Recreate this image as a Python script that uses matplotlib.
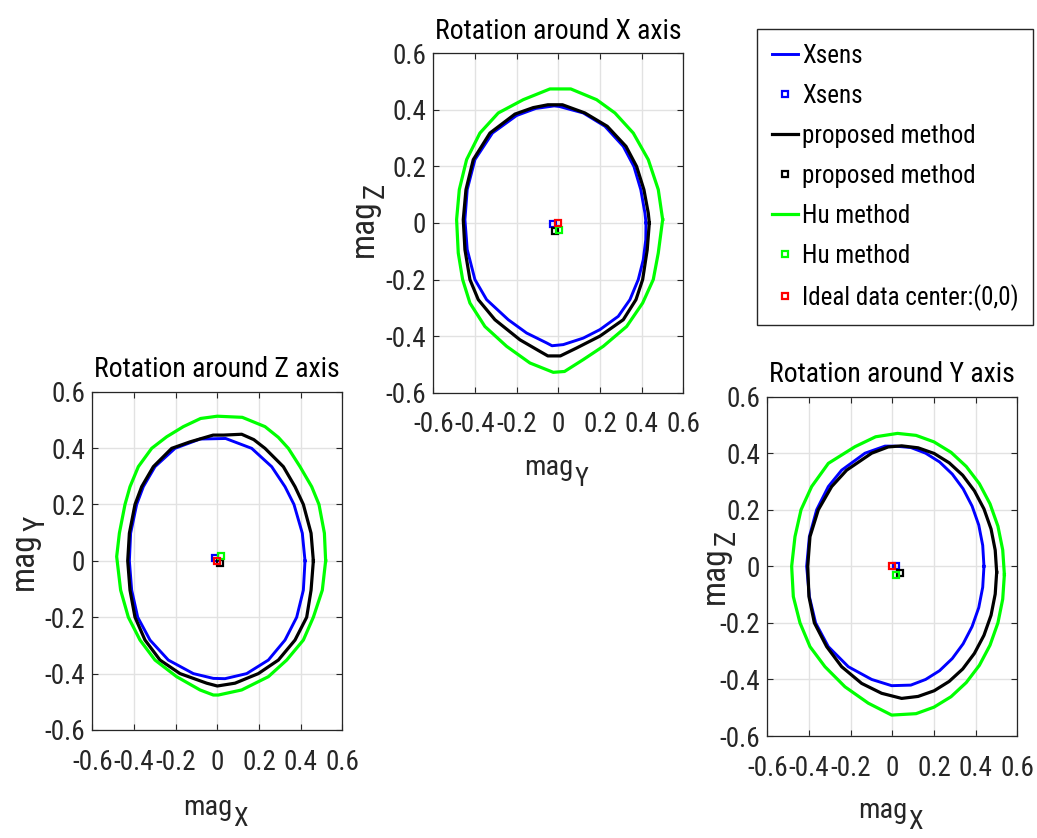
import matplotlib
matplotlib.use('Agg')
import matplotlib.pyplot as plt
from matplotlib import transforms

plt.rcParams['font.family'] = ['Roboto Condensed', 'DejaVu Sans']
plt.rcParams['axes.unicode_minus'] = False

TXT = '#262626'

# Rotation around Z axis: mag_X (x) vs mag_Y (y)
z_xsens_x = [.421, .408, .368, .325, .261, .165, .04, -.083, -.203, -.299, -.355, -.387, -.416,
             -.422, -.411, -.382, -.323, -.235, -.115, -.019, .037, .141, .245, .325, .381, .413]
z_xsens_y = [0, .098, .200, .263, .334, .399, .434, .432, .399, .334, .263, .200, .098,
             0, -.104, -.200, -.281, -.352, -.400, -.417, -.418, -.400, -.352, -.281, -.200, -.104]
z_prop_x = [.461, .450, .413, .373, .317, .229, .175, .117, .03, -.02, -.131, -.219, -.307, -.363, -.395, -.422,
            -.430, -.419, -.395, -.347, -.275, -.179, -.051, .000, .085, .197, .293, .373, .429, .450]
z_prop_y = [0, .098, .200, .263, .334, .399, .430, .449, .446, .446, .422, .399, .334, .263, .200, .098,
            0, -.104, -.200, -.281, -.352, -.400, -.434, -.444, -.434, -.400, -.352, -.281, -.200, -.104]
z_hu_x = [.520, .514, .488, .453, .397, .341, .293, .229, .12, .0, -.08, -.163, -.243, -.315, -.379, -.419, -.443,
          -.470, -.483, -.464, -.427, -.371, -.299, -.195, -.083, -.019, .005, .117, .245, .333, .413, .461, .504]
z_hu_y = [0, .098, .200, .263, .334, .399, .438, .476, .509, .513, .505, .476, .440, .399, .334, .263, .200,
          .098, .015, -.104, -.200, -.281, -.352, -.411, -.458, -.476, -.476, -.458, -.411, -.352, -.281, -.200, -.104]
z_centers = [(-0.011, 0.010), (0.013, -0.008), (0.018, 0.018)]

# Rotation around X axis: mag_Y (x) vs mag_Z (y)
x_xsens_x = [.421, .416, .396, .363, .312, .224, .120, .005, -.02, -.108, -.200, -.316, -.400, -.437, -.448,
             -.437, -.400, -.344, -.240, -.152, -.056, -.030, .024, .120, .200, .288, .344, .384, .408, .420]
x_xsens_y = [0, .035, .118, .200, .271, .342, .389, .412, .414, .405, .380, .318, .224, .118, .012,
             -.094, -.200, -.271, -.342, -.389, -.424, -.434, -.430, -.407, -.377, -.330, -.271, -.200, -.130, -.059]
x_prop_x = [.437, .432, .411, .376, .325, .235, .128, .02, -.05, -.12, -.208, -.328, -.408, -.443, -.456,
            -.448, -.424, -.384, -.304, -.184, -.088, -.05, .01, .088, .200, .312, .373, .405, .427]
x_prop_y = [0, .035, .118, .200, .271, .342, .389, .418, .418, .408, .385, .318, .224, .118, .012,
            -.094, -.200, -.271, -.342, -.413, -.454, -.470, -.470, -.442, -.400, -.342, -.271, -.200, -.094]
x_hu_x = [.501, .480, .432, .360, .272, .184, .06, -.04, -.168, -.288, -.376, -.440, -.475, -.488,
          -.480, -.459, -.424, -.352, -.248, -.136, -.024, .030, .120, .216, .328, .405, .456, .480]
x_hu_y = [.012, .118, .224, .318, .389, .436, .474, .474, .436, .389, .318, .224, .118, .012,
          -.106, -.200, -.283, -.366, -.436, -.495, -.528, -.525, -.483, -.436, -.366, -.283, -.200, -.106]
x_centers = [(-0.023, -0.004), (-0.018, -0.030), (0.003, -0.026)]

# Rotation around Y axis: mag_X (x) vs mag_Z (y)
y_xsens_x = [.440, .434, .415, .383, .340, .288, .227, .160, .089, .013, -.035, -.131, -.243, -.307, -.363, -.398,
             -.411, -.398, -.368, -.307, -.211, -.099, -.003, .089, .160, .227, .288, .340, .383, .415, .434]
y_xsens_y = [0, .074, .146, .213, .274, .326, .369, .400, .420, .425, .425, .400, .340, .282, .200, .105,
             0, -.107, -.200, -.284, -.355, -.400, -.422, -.420, -.400, -.369, -.326, -.274, -.213, -.146, -.074]
y_prop_x = [.501, .494, .474, .440, .394, .338, .273, .201, .124, .045, -.02, -.099, -.219, -.291, -.355, -.395,
            -.406, -.400, -.374, -.315, -.243, -.147, -.051, .045, .124, .201, .273, .338, .394, .440, .474, .494]
y_prop_y = [-.021, .057, .132, .203, .267, .322, .366, .399, .419, .426, .422, .400, .340, .282, .200, .105,
            0, -.107, -.200, -.284, -.355, -.414, -.449, -.467, -.460, -.440, -.407, -.363, -.308, -.244, -.173, -.098]
y_hu_x = [.538, .530, .507, .469, .418, .355, .282, .200, .114, .025, -.08, -.179, -.307, -.387, -.438, -.467,
          -.483, -.475, -.443, -.395, -.323, -.227, -.115, -.003, .114, .200, .282, .355, .418, .469, .507, .530]
y_hu_y = [-.029, .058, .142, .221, .292, .353, .403, .440, .463, .470, .458, .423, .364, .282, .200, .105,
          0, -.107, -.200, -.284, -.355, -.426, -.484, -.526, -.521, -.498, -.461, -.411, -.350, -.279, -.200, -.116]
y_centers = [(0.018, 0.0), (0.037, -0.025), (0.018, -0.031)]

ideal_center = (0, 0)
series_names = ['Xsens', 'proposed method', 'Hu method']
series_colors = ['#0000ff', '#000000', '#00ff00']
ticks = [-0.6, -0.4, -0.2, 0, 0.2, 0.4, 0.6]
tick_labels = ['-0.6', '-0.4', '-0.2', '0', '0.2', '0.4', '0.6']

fig = plt.figure(figsize=(10.37, 8.38), dpi=100)


def closed(v):
    return list(v) + [v[0]]


def mag_labels(ax, xsub, ysub, xlab_y, ylab_pos):
    # x label: "mag" with a large MATLAB-style subscript
    ax.text(0.56, xlab_y, 'mag', transform=ax.transAxes, ha='right', va='baseline',
            fontsize=20.5, color=TXT)
    off = transforms.offset_copy(ax.transAxes, fig=fig, x=1, y=-11, units='dots')
    ax.text(0.56, xlab_y, xsub, transform=off, ha='left', va='baseline', fontsize=19, color=TXT)
    # y label, rotated
    yx, yy = ylab_pos
    ax.text(yx, yy, 'mag', transform=ax.transAxes, ha='right', va='baseline',
            rotation=90, rotation_mode='anchor', fontsize=24, color=TXT)
    off = transforms.offset_copy(ax.transAxes, fig=fig, x=11, y=1, units='dots')
    ax.text(yx, yy, ysub, transform=off, ha='left', va='baseline',
            rotation=90, rotation_mode='anchor', fontsize=21, color=TXT)


def panel(rect, title, curves, centers, xsub, ysub, xlab_y, ylab_pos):
    ax = fig.add_axes(rect)
    for (cx, cy), (mx, my), name, col in zip(curves, centers, series_names, series_colors):
        ax.plot(closed(cx), closed(cy), color=col, lw=2.1 if name == 'Xsens' else 2.3, label=name)
        ax.plot(mx, my, 's', mfc='none', mec=col, ms=4.8, mew=1.6, label=name)
    ax.plot(*ideal_center, 's', mfc='none', mec='#ff0000', ms=4.8, mew=1.6,
            label='Ideal data center:(0,0)')
    ax.set_xlim(-0.6, 0.6)
    ax.set_ylim(-0.6, 0.6)
    ax.set_xticks(ticks)
    ax.set_xticklabels(tick_labels)
    ax.set_yticks(ticks)
    ax.set_yticklabels(tick_labels)
    ax.tick_params(direction='in', top=True, right=True, length=4, width=0.8,
                   labelsize=19.5, colors=TXT, pad=5)
    ax.tick_params(axis='x', pad=13.5)
    ax.grid(True, color='#e2e2e2', lw=1)
    ax.set_axisbelow(True)
    for sp in ax.spines.values():
        sp.set_color(TXT)
        sp.set_linewidth(0.9)
    ax.set_title(title, fontsize=20, pad=10.5, color='k')
    mag_labels(ax, xsub, ysub, xlab_y, ylab_pos)
    return ax


ax_z = panel([0.0890, 0.1289, 0.2411, 0.4037], 'Rotation around Z axis',
             [(z_xsens_x, z_xsens_y), (z_prop_x, z_prop_y), (z_hu_x, z_hu_y)], z_centers,
             'X', 'Y', -0.251, (-0.237, 0.585))
ax_x = panel([0.4178, 0.5314, 0.2411, 0.4050], 'Rotation around X axis',
             [(x_xsens_x, x_xsens_y), (x_prop_x, x_prop_y), (x_hu_x, x_hu_y)], x_centers,
             'Y', 'Z', -0.243, (-0.241, 0.570))
ax_y = panel([0.7399, 0.1217, 0.2411, 0.4050], 'Rotation around Y axis',
             [(y_xsens_x, y_xsens_y), (y_prop_x, y_prop_y), (y_hu_x, y_hu_y)], y_centers,
             'X', 'Z', -0.243, (-0.175, 0.560))

handles, labels = ax_x.get_legend_handles_labels()
leg = fig.legend(handles, labels, loc='upper left', bbox_to_anchor=(757.3 / 1037, 1 - 29.3 / 838),
                 fontsize=18, frameon=True, fancybox=False, edgecolor=TXT, framealpha=1,
                 handlelength=1.05, handletextpad=0.15, labelspacing=0.64, borderpad=0.58,
                 borderaxespad=0)
leg.get_frame().set_linewidth(1)

fig.savefig('out.png', dpi=100)
